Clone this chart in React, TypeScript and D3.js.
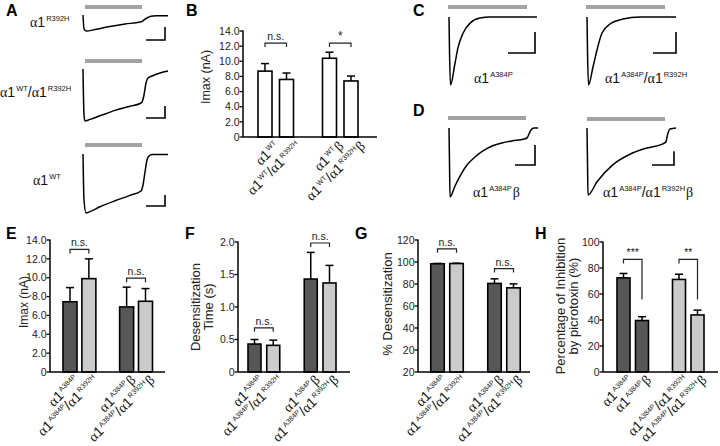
import React from 'react';
import * as d3 from 'd3';

const FONT = '"Liberation Sans", Arial, Helvetica, sans-serif';
const GREEK = '"Liberation Serif", "Times New Roman", serif';

// ---------- Panel A traces (time in s-like units, current in nA-like units) ----------
const traceA1: [number, number][] = [[0, 0], [0.1, -2.3], [0.35, -2.67], [1.2, -2.42], [2.7, -1.92], [4.2, -1.5], [5.7, -1.17], [5.9, -1.08], [6.1, -0.83], [6.4, -0.5], [6.8, -0.22], [7.3, -0.13], [8.5, -0.13]];
const traceA2: [number, number][] = [[0, 0], [0.1, -7.67], [0.2, -8.67], [0.7, -8.4], [1.7, -7.8], [3.2, -6.9], [4.7, -6.2], [5.7, -5.75], [5.9, -5.5], [6.1, -4.33], [6.3, -2.33], [6.5, -1.5], [6.9, -1.17], [7.7, -0.67], [8.5, -0.33]];
const traceA3: [number, number][] = [[0, 0], [0.1, -7.67], [0.3, -9.83], [0.7, -9.6], [1.7, -8.8], [3.2, -7.8], [4.7, -6.9], [5.8, -6.17], [6.0, -5.17], [6.2, -3], [6.4, -1], [6.6, -0.33], [6.9, -0.08], [8.5, -0.08]];
const traceLabelsA = ['α1^{R392H}', 'α1^{WT}/α1^{R392H}', 'α1^{WT}'];

// ---------- Panel C/D traces ----------
const traceC1: [number, number][] = [[0, 0], [0.05, -5], [0.15, -10], [0.6, -6.8], [0.9, -4.5], [1.4, -2.4], [2.1, -0.9], [3.1, -0.15], [4.1, 0], [8.8, 0]];
const traceC2: [number, number][] = [[0, 0], [0.05, -5], [0.15, -10], [0.6, -7.35], [1.0, -4.85], [1.5, -2.35], [2.3, -1.03], [3.6, -0.3], [5.3, 0], [8.9, 0]];
const traceD1: [number, number][] = [[0, 0], [0.05, -5], [0.1, -10], [0.6, -8.4], [1.1, -6.96], [1.8, -5.36], [2.6, -4.2], [3.4, -3.33], [4.3, -2.61], [5.3, -2.17], [6.3, -1.88], [7.5, -1.59], [7.8, -1.45], [8.0, -0.87], [8.2, -0.29], [8.5, 0], [8.9, 0]];
const traceD2: [number, number][] = [[0, 0], [0.05, -5], [0.1, -9.7], [1.0, -7.8], [2.6, -5.3], [4.3, -3.8], [6.0, -2.9], [7.6, -2.3], [7.9, -2.0], [8.0, -1.3], [8.3, -0.15], [8.9, 0]];
const traceLabelsC = ['α1^{A384P}', 'α1^{A384P}/α1^{R392H}'];
const traceLabelsD = ['α1^{A384P}β', 'α1^{A384P}/α1^{R392H}β'];

// ---------- Bar panels ----------
const bCategories = ['α1^{WT}', 'α1^{WT}/α1^{R392H}', 'α1^{WT}β', 'α1^{WT}/α1^{R392H}β'];
const bValues = [8.7, 7.6, 10.4, 7.4];
const bErrors = [1.0, 0.85, 0.8, 0.65];
const bTicks = [0, 2, 4, 6, 8, 10, 12, 14];
const bTickLabels = ['0', '2.0', '4.0', '6.0', '8.0', '10.0', '12.0', '14.0'];

const efgCategories = ['α1^{A384P}', 'α1^{A384P}/α1^{R392H}', 'α1^{A384P}β', 'α1^{A384P}/α1^{R392H}β'];

const eValues = [7.45, 9.9, 6.9, 7.5];
const eErrors = [1.5, 2.1, 2.1, 1.35];
const eTicks = [0, 2, 4, 6, 8, 10, 12, 14];
const eTickLabels = ['0', '2.0', '4.0', '6.0', '8.0', '10.0', '12.0', '14.0'];

const fValues = [0.43, 0.41, 1.43, 1.37];
const fErrors = [0.07, 0.08, 0.41, 0.27];
const fTicks = [0, 0.5, 1.0, 1.5, 2.0];
const fTickLabels = ['0', '0.5', '1.0', '1.5', '2.0'];

const gValues = [98.4, 98.6, 80.5, 76.5];
const gErrors = [0.3, 0.3, 4.2, 3.6];
const gTicks = [0, 20, 40, 60, 80, 100, 120];
const gTickLabels = ['20', '20', '40', '60', '80', '100', '120'];

const hCategories = ['α1^{A384P}', 'α1^{A384P}β', 'α1^{A384P}/α1^{R392H}', 'α1^{A384P}/α1^{R392H}β'];
const hValues = [72.4, 39.6, 71.2, 43.9];
const hErrors = [3.4, 2.9, 4.0, 3.7];
const hTicks = [0, 20, 40, 60, 80, 100];
const hTickLabels = ['0', '20', '40', '60', '80', '100'];

const DARK = '#575757';
const LIGHT = '#cbcbcb';
const STIM = '#a3a3a3';

type Part = { t: string; sup: boolean };
function parseRich(text: string): Part[] {
  const parts: Part[] = [];
  const re = /\^\{([^}]*)\}/g;
  let last = 0;
  let m: RegExpExecArray | null;
  while ((m = re.exec(text))) {
    if (m.index > last) parts.push({ t: text.slice(last, m.index), sup: false });
    parts.push({ t: m[1], sup: true });
    last = re.lastIndex;
  }
  if (last < text.length) parts.push({ t: text.slice(last), sup: false });
  return parts;
}

function RichText(props: { text: string; x?: number; y?: number; size: number; supSize: number; raise: number; anchor?: string; transform?: string }) {
  const { text, x = 0, y = 0, size, supSize, raise, anchor = 'start', transform } = props;
  const parts = parseRich(text);
  const spans: React.ReactNode[] = [];
  let pending = 0;
  let k = 0;
  parts.forEach((p) => {
    if (p.sup) {
      spans.push(
        <tspan key={k++} dx={1} dy={-raise} fontSize={supSize} fontFamily={FONT}>
          {p.t}
        </tspan>
      );
      pending = raise;
    } else {
      const chunks = p.t.match(/[αβ]+|[^αβ]+/g) || [];
      chunks.forEach((c) => {
        const greek = /[αβ]/.test(c);
        spans.push(
          <tspan key={k++} dy={pending} dx={greek && pending ? 1 : 0} fontSize={size} fontFamily={greek ? GREEK : FONT}>
            {c}
          </tspan>
        );
        pending = 0;
      });
    }
  });
  return (
    <text x={x} y={y} textAnchor={anchor} transform={transform} fill="#111">
      {spans}
    </text>
  );
}

type TraceProps = {
  data: [number, number][];
  tMax: number;
  x0: number;
  x1: number;
  base: number;
  pxPerUnit: number;
  stim: [number, number];
  stimGap: number;
  bar: { t: number; i: number; dt: number; di: number };
};

function Trace({ data, tMax, x0, x1, base, pxPerUnit, stim, stimGap, bar }: TraceProps) {
  const x = d3.scaleLinear().domain([0, tMax]).range([x0, x1]);
  const y = d3.scaleLinear().domain([0, -10]).range([base, base + 10 * pxPerUnit]);
  const line = d3
    .line<[number, number]>()
    .x((d) => x(d[0]))
    .y((d) => y(d[1]))
    .curve(d3.curveMonotoneX);
  const sb = `M${x(bar.t)},${y(bar.i + bar.di)}V${y(bar.i)}H${x(bar.t - bar.dt)}`;
  return (
    <g>
      <line x1={x(stim[0])} x2={x(stim[1])} y1={base - stimGap} y2={base - stimGap} stroke={STIM} strokeWidth={4} />
      <path d={line(data) || ''} fill="none" stroke="#000" strokeWidth={1.5} />
      <path d={sb} fill="none" stroke="#000" strokeWidth={1.6} />
    </g>
  );
}

type Bracket = { a: number; b: number; level: number; text: string; legL?: number; legR?: number; fontSize?: number };

type BarPanelProps = {
  letter: string;
  letterX: number;
  letterY: number;
  x0: number;
  xEnd: number;
  y0: number;
  yTop: number;
  max: number;
  ticks: number[];
  tickLabels: string[];
  values: number[];
  errors: number[];
  fills: string[];
  c1: number;
  c4: number;
  barW: number;
  categories: string[];
  labelDx: number;
  labelDy: number;
  labelSize: number;
  brackets: Bracket[];
  titles: { text: string; x: number }[];
  titleY: number;
  titleSize: number;
};

function BarPanel(p: BarPanelProps) {
  const y = d3.scaleLinear().domain([0, p.max]).range([p.y0, p.yTop]);
  const slots = ['0', '1', 'gap', '2', '3'];
  const xp = d3.scalePoint<string>().domain(slots).range([p.c1, p.c4]);
  const keys = ['0', '1', '2', '3'];
  const cx = (i: number) => xp(keys[i]) as number;
  return (
    <g fontFamily={FONT}>
      <text x={p.letterX} y={p.letterY} fontSize={16} fontWeight="bold" fontFamily={FONT}>
        {p.letter}
      </text>
      {p.titles.map((t, i) => (
        <text key={i} transform={`translate(${t.x},${p.titleY}) rotate(-90)`} textAnchor="middle" fontSize={p.titleSize} fill="#222">
          {t.text}
        </text>
      ))}
      {p.values.map((v, i) => (
        <g key={i}>
          <line x1={cx(i)} x2={cx(i)} y1={y(v)} y2={y(v + p.errors[i])} stroke="#000" strokeWidth={1.5} />
          <line x1={cx(i) - 4} x2={cx(i) + 4} y1={y(v + p.errors[i])} y2={y(v + p.errors[i])} stroke="#000" strokeWidth={1.5} />
          <rect x={cx(i) - p.barW / 2} y={y(v)} width={p.barW} height={p.y0 - y(v)} fill={p.fills[i]} stroke="#000" strokeWidth={1.6} />
        </g>
      ))}
      {p.ticks.map((t, i) => (
        <g key={i}>
          <line x1={p.x0 - 3.5} x2={p.x0} y1={y(t)} y2={y(t)} stroke="#000" strokeWidth={1.3} />
          <text x={p.x0 - 3.5} y={y(t)} dy="0.35em" textAnchor="end" fontSize={10.5} fill="#222">
            {p.tickLabels[i]}
          </text>
        </g>
      ))}
      <line x1={p.x0} x2={p.x0} y1={p.y0} y2={p.yTop - 0.5} stroke="#000" strokeWidth={1.5} />
      <line x1={p.x0} x2={p.xEnd} y1={p.y0} y2={p.y0} stroke="#000" strokeWidth={1.6} />
      {p.brackets.map((b, i) => {
        const xa = cx(b.a);
        const xb = cx(b.b);
        const yl = y(b.level);
        const legL = b.legL ?? 4;
        const legR = b.legR ?? 4;
        return (
          <g key={i}>
            <path d={`M${xa},${yl + legL}V${yl}H${xb}V${yl + legR}`} fill="none" stroke="#222" strokeWidth={1.2} />
            <text x={(xa + xb) / 2} y={yl - 3} textAnchor="middle" fontSize={b.fontSize ?? 10.5} fill="#222">
              {b.text}
            </text>
          </g>
        );
      })}
      {p.categories.map((c, i) => (
        <g key={i} transform={`translate(${cx(i) + p.labelDx},${p.y0 + p.labelDy}) rotate(-45)`}>
          <RichText text={c} size={p.labelSize} supSize={p.labelSize * 0.5} raise={p.labelSize * 0.38} anchor="end" />
        </g>
      ))}
    </g>
  );
}

export default function App() {
  const bigA = (text: string, x: number, y: number) => <RichText text={text} x={x} y={y} size={14} supSize={7.5} raise={6} />;
  return (
    <svg width={720} height={446} style={{ position: 'absolute', left: 0, top: 0, background: '#fff' }} fontFamily={FONT}>
      <rect width={720} height={446} fill="#fff" />
      {/* Panel A */}
      <text x={6} y={16} fontSize={16} fontWeight="bold">A</text>
      <Trace data={traceA1} tMax={8.5} x0={83} x1={168} base={15} pxPerUnit={6} stim={[0.2, 5.9]} stimGap={8} bar={{ t: 8.2, i: -4.17, dt: 1.9, di: 2.15 }} />
      <Trace data={traceA2} tMax={8.5} x0={83} x1={168} base={69} pxPerUnit={6} stim={[0.2, 5.9]} stimGap={8} bar={{ t: 8.2, i: -8.17, dt: 1.9, di: 2.0 }} />
      <Trace data={traceA3} tMax={8.5} x0={83} x1={168} base={154} pxPerUnit={6} stim={[0.2, 5.9]} stimGap={9} bar={{ t: 8.2, i: -8.67, dt: 1.9, di: 1.85 }} />
      {bigA(traceLabelsA[0], 30, 27)}
      {bigA(traceLabelsA[1], 0, 97)}
      {bigA(traceLabelsA[2], 33, 185)}

      {/* Panel C */}
      <text x={413} y={16} fontSize={16} fontWeight="bold">C</text>
      <Trace data={traceC1} tMax={8.8} x0={449} x1={537} base={17} pxPerUnit={6.8} stim={[-0.1, 7.8]} stimGap={10} bar={{ t: 8.6, i: -5.3, dt: 2.7, di: 3.1 }} />
      <Trace data={traceC2} tMax={8.9} x0={587} x1={676} base={17} pxPerUnit={6.8} stim={[-0.1, 7.8]} stimGap={10} bar={{ t: 8.9, i: -5.3, dt: 2.3, di: 3.1 }} />
      {bigA(traceLabelsC[0], 474, 83)}
      {bigA(traceLabelsC[1], 605, 83)}

      {/* Panel D */}
      <text x={413} y={116} fontSize={16} fontWeight="bold">D</text>
      <Trace data={traceD1} tMax={8.9} x0={449} x1={538} base={128} pxPerUnit={6.9} stim={[-0.1, 7.7]} stimGap={10} bar={{ t: 8.6, i: -5.36, dt: 2.0, di: 2.9 }} />
      <Trace data={traceD2} tMax={8.9} x0={587} x1={676} base={128} pxPerUnit={6.9} stim={[0, 7.8]} stimGap={9} bar={{ t: 8.7, i: -5.36, dt: 2.2, di: 2.0 }} />
      {bigA(traceLabelsD[0], 473, 197)}
      {bigA(traceLabelsD[1], 603, 197)}

      {/* Panel B */}
      <BarPanel
        letter="B" letterX={186} letterY={16}
        x0={243} xEnd={377} y0={137} yTop={31} max={14}
        ticks={bTicks} tickLabels={bTickLabels}
        values={bValues} errors={bErrors} fills={['#fff', '#fff', '#fff', '#fff']}
        c1={265} c4={351} barW={14}
        categories={bCategories} labelDx={15} labelDy={10} labelSize={14}
        brackets={[{ a: 0, b: 1, level: 12.4, text: 'n.s.' }, { a: 2, b: 3, level: 12.4, text: '*', fontSize: 12 }]}
        titles={[{ text: 'Imax (nA)', x: 210 }]} titleY={77} titleSize={12.5}
      />

      {/* Panel E */}
      <BarPanel
        letter="E" letterX={6} letterY={239}
        x0={50} xEnd={165} y0={372} yTop={240} max={14}
        ticks={eTicks} tickLabels={eTickLabels}
        values={eValues} errors={eErrors} fills={[DARK, LIGHT, DARK, LIGHT]}
        c1={70} c4={145.5} barW={14}
        categories={efgCategories} labelDx={10} labelDy={9} labelSize={14}
        brackets={[{ a: 0, b: 1, level: 13.0, text: 'n.s.' }, { a: 2, b: 3, level: 9.95, text: 'n.s.' }]}
        titles={[{ text: 'Imax (nA)', x: 28 }]} titleY={302} titleSize={12}
      />

      {/* Panel F */}
      <BarPanel
        letter="F" letterX={185} letterY={239}
        x0={238} xEnd={350} y0={372} yTop={242} max={2}
        ticks={fTicks} tickLabels={fTickLabels}
        values={fValues} errors={fErrors} fills={[DARK, LIGHT, DARK, LIGHT]}
        c1={254.5} c4={329.5} barW={13}
        categories={efgCategories} labelDx={10} labelDy={9} labelSize={14}
        brackets={[{ a: 0, b: 1, level: 0.68, text: 'n.s.' }, { a: 2, b: 3, level: 1.985, text: 'n.s.' }]}
        titles={[{ text: 'Desensitization', x: 200 }, { text: 'Time (s)', x: 213 }]} titleY={307} titleSize={13}
      />

      {/* Panel G */}
      <BarPanel
        letter="G" letterX={355} letterY={239}
        x0={418} xEnd={530} y0={372} yTop={240} max={120}
        ticks={gTicks} tickLabels={gTickLabels}
        values={gValues} errors={gErrors} fills={[DARK, LIGHT, DARK, LIGHT]}
        c1={437.5} c4={513.5} barW={13.5}
        categories={efgCategories} labelDx={10} labelDy={9} labelSize={14}
        brackets={[{ a: 0, b: 1, level: 112, text: 'n.s.' }, { a: 2, b: 3, level: 94, text: 'n.s.' }]}
        titles={[{ text: '% Desensitization', x: 392 }]} titleY={304} titleSize={13}
      />

      {/* Panel H */}
      <BarPanel
        letter="H" letterX={535} letterY={239}
        x0={603} xEnd={718} y0={372} yTop={242} max={100}
        ticks={hTicks} tickLabels={hTickLabels}
        values={hValues} errors={hErrors} fills={[DARK, DARK, LIGHT, LIGHT]}
        c1={623.5} c4={697.5} barW={13}
        categories={hCategories} labelDx={10} labelDy={9} labelSize={14}
        brackets={[
          { a: 0, b: 1, level: 86.6, text: '***', legL: 4, legR: 40 },
          { a: 2, b: 3, level: 86.6, text: '**', legL: 4, legR: 40 },
        ]}
        titles={[{ text: 'Percentage of Inhibition', x: 565 }, { text: 'by picrotoxin (%)', x: 578 }]} titleY={306} titleSize={13}
      />
    </svg>
  );
}
